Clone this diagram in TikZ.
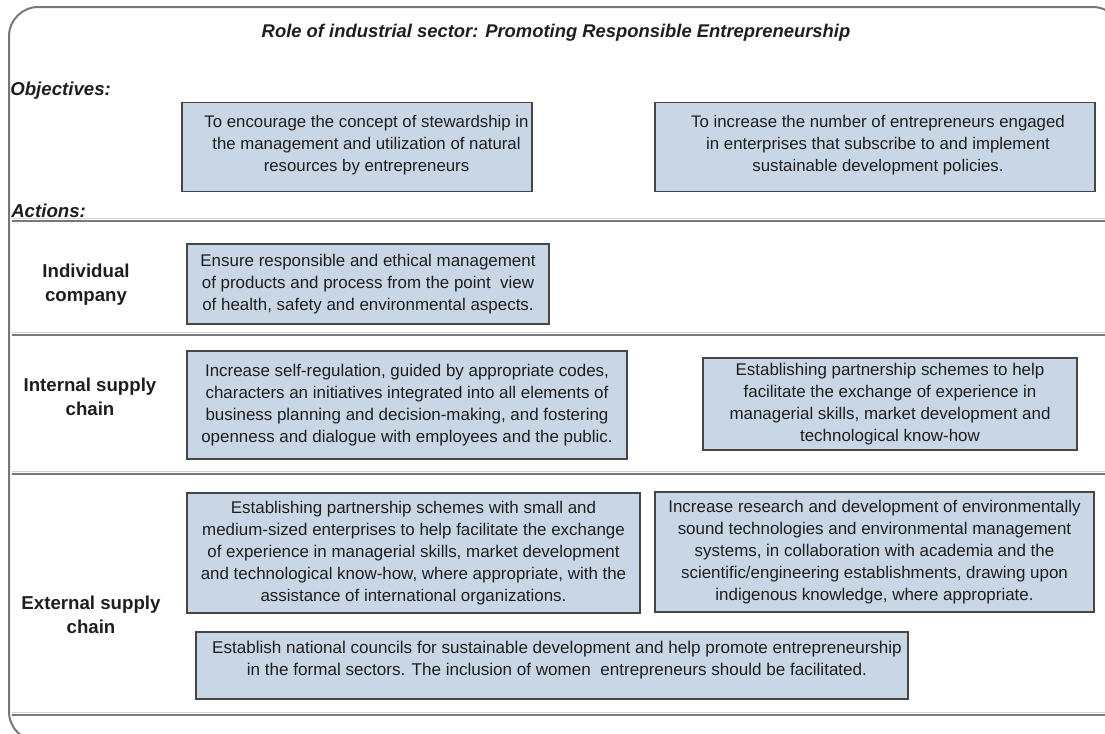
\documentclass[tikz,border=0pt]{standalone}
\usepackage{fontspec}
\setmainfont{Liberation Sans}
\definecolor{boxfill}{RGB}{201,214,229}
\definecolor{boxline}{RGB}{70,70,70}
\definecolor{txt}{RGB}{30,30,30}
\definecolor{frameline}{RGB}{120,120,120}
\tikzset{
  box/.style={draw=boxline, line width=1.3pt, fill=boxfill, inner sep=0pt, align=center, text=txt, font=\fontsize{12.6}{16.5}\selectfont},
  abox/.style={box, font=\fontsize{12.7}{16.5}\selectfont},
  boxtext/.style={align=center, text=txt, inner sep=0pt},
  rowlabel/.style={align=center, text=txt, font=\bfseries\fontsize{14}{18}\selectfont},
  sect/.style={font=\bfseries\itshape\fontsize{14}{16}\selectfont, text=txt, anchor=west, inner sep=0pt},
  sepline/.style={draw=frameline, line width=1.6pt}
}
\begin{document}
\begin{tikzpicture}[x=0.75pt,y=-0.75pt]
\useasboundingbox (0,0) rectangle (1105,733);
\clip (0,0) rectangle (1105,733);
\draw[draw=frameline, line width=1.5pt, rounded corners=22pt] (9,7) rectangle (1122,741);
\node[font=\bfseries\itshape\fontsize{13.8}{16}\selectfont, text=txt] (title) at (556,33) {Role of industrial sector: Promoting Responsible Entrepreneurship};
\node[sect] (obj) at (10,91) {Objectives:};
\node[sect] (act) at (11,211) {Actions:};
% separators
\coordinate (s1a) at (12,221); \coordinate (s1b) at (1105,221);
\coordinate (s2a) at (12,335); \coordinate (s2b) at (1105,335);
\coordinate (s3a) at (12,474); \coordinate (s3b) at (1105,474);
\coordinate (s4a) at (12,715); \coordinate (s4b) at (1105,715);
\foreach \a/\b in {s1a/s1b,s2a/s2b,s3a/s3b,s4a/s4b}{
  \draw[draw=gray!35, line width=0.8pt] ([yshift=1.6pt]\a) -- ([yshift=1.6pt]\b);
  \draw[sepline] (\a) -- (\b);
}
% objectives
\node[box, minimum width=350*0.75pt, minimum height=89*0.75pt] (o1) at (357,147) {};
\node[boxtext, font=\fontsize{12.6}{16.5}\selectfont] (o1t) at (366.5,145) {To encourage the concept of stewardship in\\the management and utilization of natural\\resources by entrepreneurs};
\node[box, minimum width=440*0.75pt, minimum height=89*0.75pt] (o2) at (875,147) {};
\node[boxtext, font=\fontsize{12.6}{16.5}\selectfont] (o2t) at (878,145) {To increase the number of entrepreneurs engaged\\in enterprises that subscribe to and implement\\sustainable development policies.};
% individual company
\node[rowlabel] (l1) at (86,285) {Individual\\company};
\node[abox, minimum width=362*0.75pt, minimum height=80*0.75pt] (a1) at (368,284) {Ensure responsible and ethical management\\of products and process from the point\ \ view\\of health, safety and environmental aspects.};
% internal supply chain
\node[rowlabel] (l2) at (90,397) {Internal supply\\chain};
\node[abox, minimum width=440*0.75pt, minimum height=108*0.75pt] (a2) at (407,405) {Increase self-regulation, guided by appropriate codes,\\characters an initiatives integrated into all elements of\\business planning and decision-making, and fostering\\openness and dialogue with employees and the public.};
\node[abox, minimum width=374*0.75pt, minimum height=92*0.75pt] (a3) at (890,404) {Establishing partnership schemes to help\\facilitate the exchange of experience in\\managerial skills, market development and\\technological know-how};
% external supply chain
\node[rowlabel] (l3) at (91,615) {External supply\\chain};
\node[abox, minimum width=453*0.75pt, minimum height=120*0.75pt] (a4) at (413.5,553) {Establishing partnership schemes with small and\\medium-sized enterprises to help facilitate the exchange\\of experience in managerial skills, market development\\and technological know-how, where appropriate, with the\\assistance of international organizations.};
\node[abox, minimum width=439*0.75pt, minimum height=120*0.75pt] (a5) at (874.5,552) {Increase research and development of environmentally\\sound technologies and environmental management\\systems, in collaboration with academia and the\\scientific/engineering establishments, drawing upon\\indigenous knowledge, where appropriate.};
\node[abox, minimum width=712*0.75pt, minimum height=67*0.75pt] (a6) at (552,665.5) {};
\node[boxtext, font=\fontsize{12.8}{16.5}\selectfont] (a6t) at (557,660) {Establish national councils for sustainable development and help promote entrepreneurship\\in the formal sectors. The inclusion of women\ \ entrepreneurs should be facilitated.};
\end{tikzpicture}
\end{document}
